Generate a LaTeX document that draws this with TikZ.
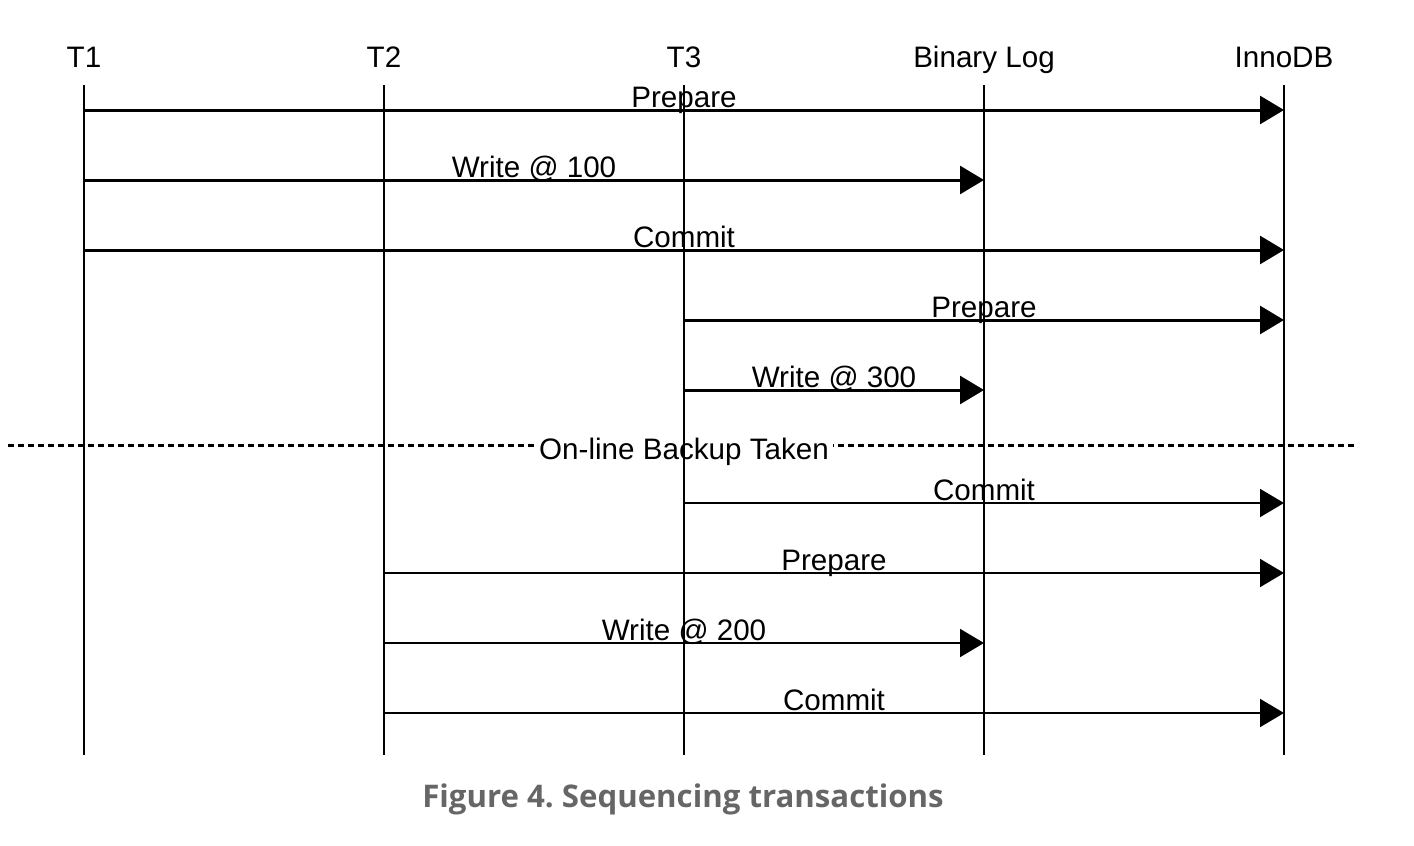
\documentclass[tikz,border=0pt]{standalone}
\usepackage{fontspec}
\setmainfont{Liberation Sans}
\newfontfamily\capfont{Open Sans}
\usepackage{xcolor}
\usepackage{tikz}
\usetikzlibrary{arrows.meta,calc,positioning}

\definecolor{capgray}{HTML}{666666}

\tikzset{
  head/.style={anchor=base,inner sep=0pt},
  life/.style={line width=1pt},
  msg/.style={line width=1.5pt,-{Triangle[length=12pt,width=14pt]}},
  msgthin/.style={msg,line width=1pt},
  lbl/.style={anchor=base,inner sep=0pt,yshift=1.5pt},
  backup/.style={line width=1.5pt,dash pattern=on 3pt off 2pt},
}

\begin{document}
\frenchspacing
\begin{tikzpicture}[x=0.5pt,y=-0.5pt,font=\fontsize{14.8pt}{18pt}\selectfont]

\useasboundingbox (0,0) rectangle (1414,846);

% backup line
\coordinate (bkl) at (8,445);
\coordinate (bkr) at (1355,445);
\draw[backup] (bkl) -- (bkr);
\node[anchor=base,fill=white,inner sep=2pt] (bk) at (684,459) {On-line Backup Taken};

% lifelines
\foreach \n/\x/\t in {T1/84/T1,T2/384/T2,T3/684/T3,BL/984/Binary Log,IDB/1284/InnoDB}{
  \node[head] (\n) at (\x,68) {\t};
  \coordinate (\n s) at (\x,85);
  \coordinate (\n e) at (\x,755);
  \draw[life] (\n s) -- (\n e);
}

% message rows
\coordinate (r1) at (0,110);
\coordinate (r2) at (0,180);
\coordinate (r3) at (0,250);
\coordinate (r4) at (0,320);
\coordinate (r5) at (0,390);
\coordinate (r6) at (0,503);
\coordinate (r7) at (0,573);
\coordinate (r8) at (0,643);
\coordinate (r9) at (0,713);

\draw[msg] (T1 |- r1) -- node[lbl] {Prepare} (IDB |- r1);% T1 prepare
\draw[msg] (T1 |- r2) -- node[lbl] {Write @ 100} (BL |- r2);% T1 write
\draw[msg] (T1 |- r3) -- node[lbl] {Commit} (IDB |- r3);% T1 commit
\draw[msg] (T3 |- r4) -- node[lbl] {Prepare} (IDB |- r4);% T3 prepare
\draw[msg] (T3 |- r5) -- node[lbl] {Write @ 300} (BL |- r5);% T3 write
\draw[msgthin] (T3 |- r6) -- node[lbl] {Commit} (IDB |- r6);% T3 commit
\draw[msgthin] (T2 |- r7) -- node[lbl] {Prepare} (IDB |- r7);% T2 prepare
\draw[msgthin] (T2 |- r8) -- node[lbl] {Write @ 200} (BL |- r8);% T2 write
\draw[msgthin] (T2 |- r9) -- node[lbl] {Commit} (IDB |- r9);% T2 commit

\node[anchor=base,inner sep=0pt,text=capgray,font=\capfont\bfseries\fontsize{15.6pt}{18pt}\selectfont] (cap) at (683,807) {Figure 4. Sequencing transactions};

\end{tikzpicture}
\end{document}
